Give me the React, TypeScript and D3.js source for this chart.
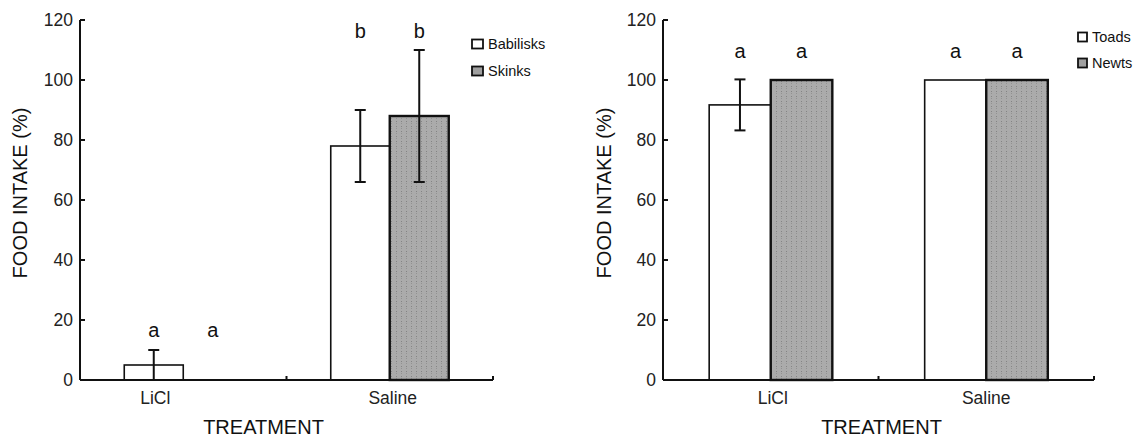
import React, { useEffect, useRef } from "react";
import * as d3 from "d3";

// shared
const categories = ["LiCl", "Saline"];
const yTicks = [0, 20, 40, 60, 80, 100, 120];

// left panel: lizards
const lizardSeries = ["Babilisks", "Skinks"];
const babilisksMean = [5, 78];
const babilisksErr = [5, 12];
const skinksMean = [0, 88];
const skinksErr = [0, 22];
const lizardLetters = [["a", "a"], ["b", "b"]];
const lizardLetterY = [14.3, 114];

// right panel: amphibians
const amphSeries = ["Toads", "Newts"];
const toadsMean = [91.7, 100];
const toadsErr = [8.5, 0];
const newtsMean = [100, 100];
const newtsErr = [0, 0];
const amphLetters = [["a", "a"], ["a", "a"]];
const amphLetterY = [107.3, 107.3];

const FONT = "Liberation Sans, Arial, Helvetica, sans-serif";

type Panel = {
  x0: number;
  x1: number;
  series: string[];
  means: number[][];
  errs: number[][];
  letters: string[][];
  letterY: number[];
  tickDx: number[];
  titleDx: number;
  yTitleX: number;
  legendX: number;
  legendY: number[];
  boxW: number;
};

const panels: Panel[] = [
  {
    x0: 80, x1: 493,
    series: lizardSeries,
    means: [babilisksMean, skinksMean],
    errs: [babilisksErr, skinksErr],
    letters: lizardLetters,
    letterY: lizardLetterY,
    tickDx: [-28, 3],
    titleDx: -23,
    yTitleX: 27,
    legendX: 472,
    legendY: [44, 71],
    boxW: 11,
  },
  {
    x0: 663, x1: 1094,
    series: amphSeries,
    means: [toadsMean, newtsMean],
    errs: [toadsErr, newtsErr],
    letters: amphLetters,
    letterY: amphLetterY,
    tickDx: [2, 0],
    titleDx: 3,
    yTitleX: 611,
    legendX: 1078,
    legendY: [37, 63],
    boxW: 9,
  },
];

export default function App() {
  const ref = useRef<SVGSVGElement>(null);

  useEffect(() => {
    const svg = d3.select(ref.current);
    svg.selectAll("*").remove();

    const defs = svg.append("defs");
    const pat = defs.append("pattern")
      .attr("id", "dots")
      .attr("patternUnits", "userSpaceOnUse")
      .attr("width", 5)
      .attr("height", 5);
    pat.append("rect").attr("width", 5).attr("height", 5).attr("fill", "#ababab");
    pat.append("rect").attr("x", 1).attr("y", 1).attr("width", 1).attr("height", 1).attr("fill", "#848484");
    pat.append("rect").attr("x", 1).attr("y", 3).attr("width", 1).attr("height", 1).attr("fill", "#939393");

    const y = d3.scaleLinear().domain([0, 120]).range([380, 20]);

    panels.forEach((p) => {
      const g = svg.append("g");
      const x = d3.scaleBand<string>().domain(categories).range([p.x0, p.x1]).padding(0);
      const xs = d3.scaleBand<string>().domain(p.series).range([0, x.bandwidth()]).paddingInner(0).paddingOuter(0.75);

      // bars
      p.series.forEach((s, si) => {
        categories.forEach((c, ci) => {
          const v = p.means[si][ci];
          if (v <= 0) return;
          const bx = x(c)! + xs(s)!;
          g.append("rect")
            .attr("x", bx)
            .attr("y", y(v))
            .attr("width", xs.bandwidth())
            .attr("height", y(0) - y(v))
            .attr("fill", si === 0 ? "#fff" : "url(#dots)")
            .attr("stroke", "#111")
            .attr("stroke-width", si === 0 ? 1.6 : 2.4);
        });
      });

      // error bars
      p.series.forEach((s, si) => {
        categories.forEach((c, ci) => {
          const v = p.means[si][ci];
          const e = p.errs[si][ci];
          if (e <= 0) return;
          const cx = x(c)! + xs(s)! + xs.bandwidth() / 2;
          const lo = Math.max(0, v - e);
          g.append("line")
            .attr("x1", cx).attr("x2", cx)
            .attr("y1", y(lo)).attr("y2", y(v + e))
            .attr("stroke", "#111").attr("stroke-width", 2);
          [v + e, lo].forEach((yy) => {
            if (yy <= 0) return;
            g.append("line")
              .attr("x1", cx - 5.5).attr("x2", cx + 5.5)
              .attr("y1", y(yy)).attr("y2", y(yy))
              .attr("stroke", "#111").attr("stroke-width", 2);
          });
        });
      });

      // significance letters
      p.series.forEach((s, si) => {
        categories.forEach((c, ci) => {
          g.append("text")
            .attr("x", x(c)! + xs(s)! + xs.bandwidth() / 2)
            .attr("y", y(p.letterY[ci]))
            .attr("text-anchor", "middle")
            .attr("font-family", FONT)
            .attr("font-size", 20)
            .attr("fill", "#111")
            .text(p.letters[ci][si]);
        });
      });

      // y axis
      g.append("line")
        .attr("x1", p.x0).attr("x2", p.x0)
        .attr("y1", y(120)).attr("y2", y(0))
        .attr("stroke", "#111").attr("stroke-width", 2);
      yTicks.forEach((t) => {
        g.append("line")
          .attr("x1", p.x0).attr("x2", p.x0 + 5)
          .attr("y1", y(t)).attr("y2", y(t))
          .attr("stroke", "#111").attr("stroke-width", 2);
        g.append("text")
          .attr("x", p.x0 - 7)
          .attr("y", y(t))
          .attr("dy", "0.35em")
          .attr("text-anchor", "end")
          .attr("font-family", FONT)
          .attr("font-size", 17.5)
          .attr("fill", "#222")
          .text(t);
      });

      // x axis
      g.append("line")
        .attr("x1", p.x0).attr("x2", p.x1)
        .attr("y1", y(0)).attr("y2", y(0))
        .attr("stroke", "#111").attr("stroke-width", 2);
      categories.forEach((c) => {
        const xe = x(c)! + x.bandwidth();
        g.append("line")
          .attr("x1", xe).attr("x2", xe)
          .attr("y1", y(0)).attr("y2", y(0) - 4)
          .attr("stroke", "#111").attr("stroke-width", 2);
      });
      categories.forEach((c, ci) => {
        g.append("text")
          .attr("x", x(c)! + x.bandwidth() / 2 + p.tickDx[ci])
          .attr("y", 404)
          .attr("text-anchor", "middle")
          .attr("font-family", FONT)
          .attr("font-size", 17.5)
          .attr("fill", "#222")
          .text(c);
      });

      // axis titles
      g.append("text")
        .attr("x", (p.x0 + p.x1) / 2 + p.titleDx)
        .attr("y", 434)
        .attr("text-anchor", "middle")
        .attr("font-family", FONT)
        .attr("font-size", 20)
        .attr("fill", "#111")
        .text("TREATMENT");
      g.append("text")
        .attr("transform", `translate(${p.yTitleX},193) rotate(-90)`)
        .attr("text-anchor", "middle")
        .attr("font-family", FONT)
        .attr("font-size", 20)
        .attr("fill", "#111")
        .text("FOOD INTAKE (%)");

      // legend
      p.series.forEach((s, si) => {
        const ly = p.legendY[si];
        g.append("rect")
          .attr("x", p.legendX)
          .attr("y", ly - 4.5)
          .attr("width", p.boxW)
          .attr("height", 9)
          .attr("fill", si === 0 ? "#fff" : "#a0a0a0")
          .attr("stroke", "#111")
          .attr("stroke-width", 1.8);
        g.append("text")
          .attr("x", p.legendX + p.boxW + 5)
          .attr("y", ly)
          .attr("dy", "0.36em")
          .attr("font-family", FONT)
          .attr("font-size", 14.5)
          .attr("fill", "#111")
          .text(s);
      });
    });
  }, []);

  return (
    <svg
      ref={ref}
      width={1139}
      height={437}
      style={{ position: "absolute", left: 0, top: 0, background: "#fff" }}
    />
  );
}
